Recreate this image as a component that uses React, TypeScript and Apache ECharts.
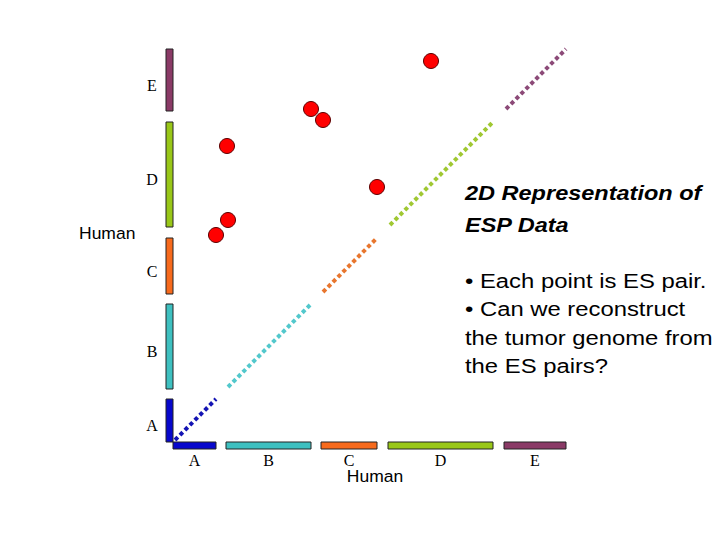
import { useEffect, useRef } from "react";
import * as echarts from "echarts";

// Genome segments laid out along both axes (same coordinates on x and y)
const segmentNames = ["A", "B", "C", "D", "E"];
const segmentStarts = [0, 53, 148, 215, 331];
const segmentEnds = [43, 138, 204, 320, 393];
const segmentColors = ["#0808CC", "#3EC0C0", "#F76A1C", "#99C718", "#8A3A66"];
const dotColors = ["#1414B4", "#52C8CC", "#E8762E", "#A0C832", "#8C4A78"];

// End-sequence pairs: position of each read in the x genome vs the y genome
const pairX = [258, 138, 150, 54, 204, 55, 43];
const pairY = [381, 333, 322, 296, 255, 222, 207];

const axisTitle = "Human";
const titleLines = ["2D Representation of", "ESP Data"];
const bulletLines = [
  "• Each point is ES pair.",
  "• Can we reconstruct",
  "the tumor genome from",
  "the ES pairs?",
];

const SANS = "'Liberation Sans', Arial, sans-serif";
const SERIF = "'Liberation Serif', 'Times New Roman', serif";

export default function App() {
  const ref = useRef<HTMLDivElement>(null);

  useEffect(() => {
    if (!ref.current) return;
    const chart = echarts.init(ref.current, undefined, { renderer: "svg" });

    const barThickness = 7;

    const diagonalSeries = segmentNames.map((name, i) => ({
      type: "line" as const,
      name: "diag-" + name,
      data: [
        [segmentStarts[i] + 2, segmentStarts[i] + 2],
        [segmentEnds[i], segmentEnds[i]],
      ],
      symbol: "none",
      silent: true,
      lineStyle: {
        color: dotColors[i],
        width: 4,
        type: [4, 3] as number[],
        cap: "butt" as const,
      },
      z: 2,
    }));

    chart.setOption({
      animation: false,
      backgroundColor: "#ffffff",
      grid: { left: 173, top: 49, width: 393, height: 393, containLabel: false },
      xAxis: {
        type: "value",
        min: 0,
        max: 393,
        show: false,
      },
      yAxis: {
        type: "value",
        min: 0,
        max: 393,
        show: false,
      },
      series: [
        {
          type: "custom",
          name: "segments",
          clip: false,
          silent: true,
          data: segmentNames.map((_, i) => [i, segmentStarts[i], segmentEnds[i]]),
          renderItem: (_params: any, api: any) => {
            const i = api.value(0) as number;
            const s = api.value(1) as number;
            const e = api.value(2) as number;
            const p0 = api.coord([s, 0]);
            const p1 = api.coord([e, 0]);
            const q0 = api.coord([0, s]);
            const q1 = api.coord([0, e]);
            const barStyle = {
              fill: segmentColors[i],
              stroke: "#222222",
              lineWidth: 1,
            };
            return {
              type: "group",
              children: [
                {
                  type: "rect",
                  shape: { x: p0[0], y: p0[1], width: p1[0] - p0[0], height: barThickness },
                  style: barStyle,
                },
                {
                  type: "rect",
                  shape: {
                    x: q0[0] - barThickness,
                    y: q1[1],
                    width: barThickness,
                    height: q0[1] - q1[1],
                  },
                  style: barStyle,
                },
                {
                  type: "text",
                  x: (p0[0] + p1[0]) / 2,
                  y: p0[1] + barThickness + 11,
                  style: {
                    text: segmentNames[i],
                    font: "16px " + SERIF,
                    fill: "#000000",
                    align: "center",
                    verticalAlign: "middle",
                  },
                },
                {
                  type: "text",
                  x: q0[0] - barThickness - 14,
                  y: (q0[1] + q1[1]) / 2 + 5,
                  style: {
                    text: segmentNames[i],
                    font: "16px " + SERIF,
                    fill: "#000000",
                    align: "center",
                    verticalAlign: "middle",
                  },
                },
              ],
            };
          },
          z: 1,
        },
        ...diagonalSeries,
        {
          type: "scatter",
          name: "ES pairs",
          data: pairX.map((x, i) => [x, pairY[i]]),
          symbol: "circle",
          symbolSize: 15,
          itemStyle: {
            color: "#FF0000",
            borderColor: "#5A0000",
            borderWidth: 1,
            opacity: 1,
          },
          z: 3,
        },
      ],
      graphic: [
        {
          type: "text",
          x: 79,
          y: 233.5,
          scaleX: 1.03,
          style: {
            text: axisTitle,
            font: "17px " + SANS,
            fill: "#000000",
            align: "left",
            verticalAlign: "middle",
          },
        },
        {
          type: "text",
          x: 375,
          y: 476,
          scaleX: 1.03,
          style: {
            text: axisTitle,
            font: "17px " + SANS,
            fill: "#000000",
            align: "center",
            verticalAlign: "middle",
          },
        },
        ...titleLines.map((t, i) => ({
          type: "text",
          x: 465,
          y: 192.5 + i * 32.5,
          scaleX: 1.12,
          style: {
            text: t,
            font: "italic bold 21px " + SANS,
            fill: "#000000",
            align: "left",
            verticalAlign: "middle",
          },
        })),
        ...bulletLines.map((t, i) => ({
          type: "text",
          x: 465,
          y: 280.5 + i * 28.5,
          scaleX: 1.135,
          style: {
            text: t,
            font: "21px " + SANS,
            fill: "#000000",
            align: "left",
            verticalAlign: "middle",
          },
        })),
      ],
    });

    return () => {
      chart.dispose();
    };
  }, []);

  return (
    <div
      ref={ref}
      style={{ position: "fixed", left: 0, top: 0, width: 720, height: 540 }}
    />
  );
}
